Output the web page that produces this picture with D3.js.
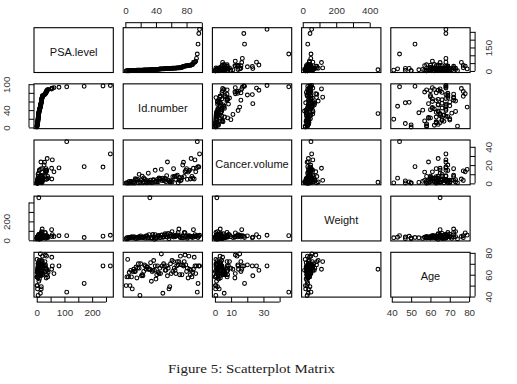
<!DOCTYPE html>
<html>
<head>
<meta charset="utf-8">
<script src="https://cdn.jsdelivr.net/npm/d3@7"></script>
<style>
  body { margin: 0; background: #fff; }
</style>
</head>
<body>
<div id="chart"></div>
<script>
var svgWidth = 517;
var svgHeight = 384;

// variable names (diagonal labels)
var varNames = ["PSA.level", "Id.number", "Cancer.volume", "Weight", "Age"];

// data, one array per variable (97 patients)
var psaLevel = [0.65, 0.85, 0.85, 0.85, 1.45, 2.15, 2.15, 2.35, 2.85, 2.85,
  3.55, 3.55, 3.55, 3.85, 4.05, 4.25, 4.35, 4.45, 4.75, 4.95,
  5.15, 5.25, 5.45, 5.55, 5.65, 5.85, 6.05, 6.15, 6.35, 6.65,
  6.85, 7.45, 7.45, 7.55, 7.75, 8.05, 8.65, 8.95, 9.15, 9.75,
  9.95, 10.05, 10.25, 10.75, 12.45, 12.85, 13.05, 13.05, 13.35, 13.35,
  14.25, 14.55, 14.65, 14.75, 14.95, 15.15, 16.25, 16.35, 16.55, 16.65,
  17.15, 17.35, 17.35, 17.85, 17.85, 17.95, 18.55, 19.35, 19.35, 19.55,
  20.35, 20.85, 21.25, 21.65, 26.45, 28.15, 29.75, 31.05, 31.75, 33.55,
  33.65, 34.15, 35.35, 35.55, 36.15, 37.75, 39.65, 40.95, 53.75, 54.25,
  56.25, 62.15, 80.25, 108.25, 171.25, 239.25, 265.85];

var idNumber = [1, 2, 3, 4, 5, 6, 7, 8, 9, 10,
  11, 12, 13, 14, 15, 16, 17, 18, 19, 20,
  21, 22, 23, 24, 25, 26, 27, 28, 29, 30,
  31, 32, 33, 34, 35, 36, 37, 38, 39, 40,
  41, 42, 43, 44, 45, 46, 47, 48, 49, 50,
  51, 52, 53, 54, 55, 56, 57, 58, 59, 60,
  61, 62, 63, 64, 65, 66, 67, 68, 69, 70,
  71, 72, 73, 74, 75, 76, 77, 78, 79, 80,
  81, 82, 83, 84, 85, 86, 87, 88, 89, 90,
  91, 92, 93, 94, 95, 96, 97];

var cancerVolume = [0.56, 0.37, 0.60, 0.30, 2.12, 0.35, 2.09, 2.00, 0.46, 1.25,
  1.29, 0.26, 5.02, 4.38, 3.34, 4.67, 0.66, 9.86, 0.57, 1.20,
  3.15, 7.84, 0.58, 5.94, 1.47, 4.25, 1.67, 0.67, 2.83, 11.13,
  1.33, 1.20, 3.58, 1.01, 0.99, 3.70, 4.15, 1.58, 14.31, 2.22,
  1.86, 4.23, 1.79, 5.88, 4.42, 5.28, 15.30, 3.20, 5.73, 3.39,
  2.98, 5.26, 1.67, 8.39, 23.42, 3.55, 2.65, 1.59, 1.72, 2.89,
  1.58, 7.37, 16.05, 7.65, 7.95, 4.30, 7.56, 9.01, 0.64, 3.30,
  6.45, 3.19, 3.37, 6.29, 20.07, 23.13, 7.47, 12.65, 14.13, 16.11,
  4.34, 12.35, 13.64, 14.55, 4.77, 27.19, 7.57, 5.65, 16.57, 4.77,
  25.71, 12.59, 16.95, 45.65, 18.31, 17.86, 32.20];

var weight = [15.95, 27.65, 14.75, 26.65, 30.95, 25.25, 32.25, 34.45, 34.45, 25.65,
  36.75, 36.55, 20.55, 20.05, 31.25, 21.35, 33.65, 38.45, 26.25, 45.85,
  30.55, 33.15, 29.25, 31.55, 39.15, 22.75, 41.25, 47.75, 22.85, 29.25,
  59.75, 449.25, 20.85, 26.25, 24.95, 61.55, 38.75, 10.75, 59.45, 20.35,
  23.15, 39.75, 47.75, 49.25, 30.25, 29.75, 54.35, 56.55, 33.05, 35.45,
  54.25, 69.05, 37.85, 61.65, 33.65, 72.25, 17.55, 43.15, 65.25, 47.05,
  92.25, 41.25, 33.95, 50.25, 37.45, 46.35, 48.35, 57.45, 82.15, 119.15,
  36.35, 28.25, 45.85, 25.45, 46.95, 26.15, 84.25, 77.85, 35.95, 45.75,
  21.55, 32.25, 48.85, 46.45, 40.85, 33.75, 41.75, 29.05, 111.95, 40.25,
  60.45, 39.55, 48.25, 49.25, 29.85, 43.55, 53.25];

var age = [50, 58, 74, 58, 62, 50, 64, 58, 47, 63,
  65, 63, 63, 67, 57, 66, 70, 66, 41, 70,
  59, 60, 59, 63, 69, 68, 65, 67, 67, 65,
  65, 65, 71, 54, 63, 64, 73, 64, 68, 56,
  60, 68, 62, 61, 66, 61, 79, 68, 43, 70,
  68, 64, 64, 68, 59, 66, 47, 49, 70, 61,
  73, 63, 72, 66, 64, 61, 68, 72, 69, 72,
  60, 77, 69, 60, 69, 68, 72, 78, 69, 63,
  66, 57, 77, 65, 60, 64, 58, 62, 65, 76,
  68, 61, 68, 44, 52, 68, 68];

var columns = [psaLevel, idNumber, cancerVolume, weight, age];

// tick positions per variable, and the labels R kept on each side
var tickValues = [
  [0, 50, 100, 150, 200, 250],
  [0, 20, 40, 60, 80, 100],
  [0, 10, 20, 30, 40],
  [0, 100, 200, 300, 400],
  [40, 50, 60, 70, 80]
];
var xTickLabels = [[0, 100, 200], [0, 40, 80], [0, 10, 30], [0, 200, 400], [40, 50, 60, 70, 80]];
var yTickLabels = [[0, 150], [0, 40, 100], [0, 20, 40], [0, 200], [40, 60, 80]];

var captionText = "Figure 5: Scatterplot Matrix";

// panel grid
var n = varNames.length;
var gridLeft = 34, gridTop = 27.7;
var panelW = 79.3, panelH = 44.8;
var strideX = 89.2, strideY = 56.15;
var tickLen = 5;
var sansFont = "'Liberation Sans', Arial, sans-serif";

var svg = d3.select("#chart")
  .append("svg")
  .attr("width", svgWidth)
  .attr("height", svgHeight);

svg.append("rect")
  .attr("width", svgWidth)
  .attr("height", svgHeight)
  .attr("fill", "#fff");

// R style domains: data range padded by 4% each side
function paddedDomain(values) {
  var ext = d3.extent(values);
  var pad = (ext[1] - ext[0]) * 0.04;
  return [ext[0] - pad, ext[1] + pad];
}

var xScales = columns.map(function(values, j) {
  var x0 = gridLeft + j * strideX;
  return d3.scaleLinear().domain(paddedDomain(values)).range([x0, x0 + panelW]);
});
var yScales = columns.map(function(values, i) {
  var y0 = gridTop + i * strideY;
  return d3.scaleLinear().domain(paddedDomain(values)).range([y0 + panelH, y0]);
});

function labelFormat(labels) {
  return function(d) { return labels.indexOf(d) >= 0 ? d : ""; };
}

for (var i = 0; i < n; i++) {
  for (var j = 0; j < n; j++) {
    var px = gridLeft + j * strideX;
    var py = gridTop + i * strideY;
    var panel = svg.append("g");

    if (i === j) {
      panel.append("text")
        .attr("x", px + panelW / 2)
        .attr("y", py + panelH / 2 + 1.5)
        .attr("text-anchor", "middle")
        .attr("dominant-baseline", "central")
        .style("font-family", sansFont)
        .style("font-size", "11px")
        .attr("fill", "#111")
        .text(varNames[i]);
    } else {
      var pts = columns[j].map(function(v, k) { return [v, columns[i][k]]; });
      var xs = xScales[j], ys = yScales[i];
      panel.selectAll("circle")
        .data(pts)
        .enter()
        .append("circle")
        .attr("cx", d => xs(d[0]))
        .attr("cy", d => ys(d[1]))
        .attr("r", 1.9)
        .attr("fill", "none")
        .attr("stroke", "#000")
        .attr("stroke-width", 1.1);
    }

    panel.append("rect")
      .attr("x", px)
      .attr("y", py)
      .attr("width", panelW)
      .attr("height", panelH)
      .attr("fill", "none")
      .attr("stroke", "#000")
      .attr("stroke-width", 1.1);
  }
}

// outer axes, alternating sides like pairs()
function styleAxis(g) {
  g.selectAll(".domain").attr("stroke", "#000").attr("stroke-width", 1);
  g.selectAll(".tick line").attr("stroke", "#000").attr("stroke-width", 1);
  g.selectAll(".tick text")
    .style("font-size", "9.8px")
    .style("font-family", sansFont)
    .attr("fill", "#333");
}

for (var k = 0; k < n; k++) {
  var ticks = tickValues[k];
  if (k % 2 === 1) {
    // top axis on even columns
    var topAxis = d3.axisTop(xScales[k]).tickValues(ticks).tickSize(tickLen)
      .tickFormat(labelFormat(xTickLabels[k]));
    var gt = svg.append("g").attr("transform", `translate(0, ${gridTop})`).call(topAxis);
    gt.select(".domain").attr("d", `M${xScales[k](ticks[0])},${-tickLen}H${xScales[k](ticks[ticks.length - 1])}`);
    styleAxis(gt);
    gt.selectAll(".tick text").attr("y", -16.7).attr("dy", "0.35em");

    // left axis on even rows
    var leftAxis = d3.axisLeft(yScales[k]).tickValues(ticks).tickSize(tickLen)
      .tickFormat(labelFormat(yTickLabels[k]));
    var gl = svg.append("g").attr("transform", `translate(${gridLeft}, 0)`).call(leftAxis);
    gl.select(".domain").attr("d", `M${-tickLen},${yScales[k](ticks[0])}V${yScales[k](ticks[ticks.length - 1])}`);
    styleAxis(gl);
    gl.selectAll(".tick text")
      .attr("x", null).attr("dy", null)
      .attr("text-anchor", "middle")
      .attr("dominant-baseline", "central")
      .attr("transform", "translate(-27.5,0) rotate(-90)");
  } else {
    // bottom axis on odd columns
    var bottom = gridTop + (n - 1) * strideY + panelH;
    var bottomAxis = d3.axisBottom(xScales[k]).tickValues(ticks).tickSize(tickLen)
      .tickFormat(labelFormat(xTickLabels[k]));
    var gb = svg.append("g").attr("transform", `translate(0, ${bottom})`).call(bottomAxis);
    gb.select(".domain").attr("d", `M${xScales[k](ticks[0])},${tickLen}H${xScales[k](ticks[ticks.length - 1])}`);
    styleAxis(gb);
    gb.selectAll(".tick text").attr("y", 15.7).attr("dy", "0.35em");

    // right axis on odd rows
    var right = gridLeft + (n - 1) * strideX + panelW;
    var rightAxis = d3.axisRight(yScales[k]).tickValues(ticks).tickSize(tickLen)
      .tickFormat(labelFormat(yTickLabels[k]));
    var gr = svg.append("g").attr("transform", `translate(${right}, 0)`).call(rightAxis);
    gr.select(".domain").attr("d", `M${tickLen},${yScales[k](ticks[0])}V${yScales[k](ticks[ticks.length - 1])}`);
    styleAxis(gr);
    gr.selectAll(".tick text")
      .attr("x", null).attr("dy", null)
      .attr("text-anchor", "middle")
      .attr("dominant-baseline", "central")
      .attr("transform", "translate(18,0) rotate(-90)");
  }
}

// caption below the figure
svg.append("text")
  .attr("x", 251.5)
  .attr("y", 373)
  .attr("text-anchor", "middle")
  .attr("textLength", 167)
  .attr("lengthAdjust", "spacingAndGlyphs")
  .style("font-family", "'Liberation Serif', 'Times New Roman', serif")
  .style("font-size", "13px")
  .attr("fill", "#222")
  .text(captionText);
</script>
</body>
</html>
